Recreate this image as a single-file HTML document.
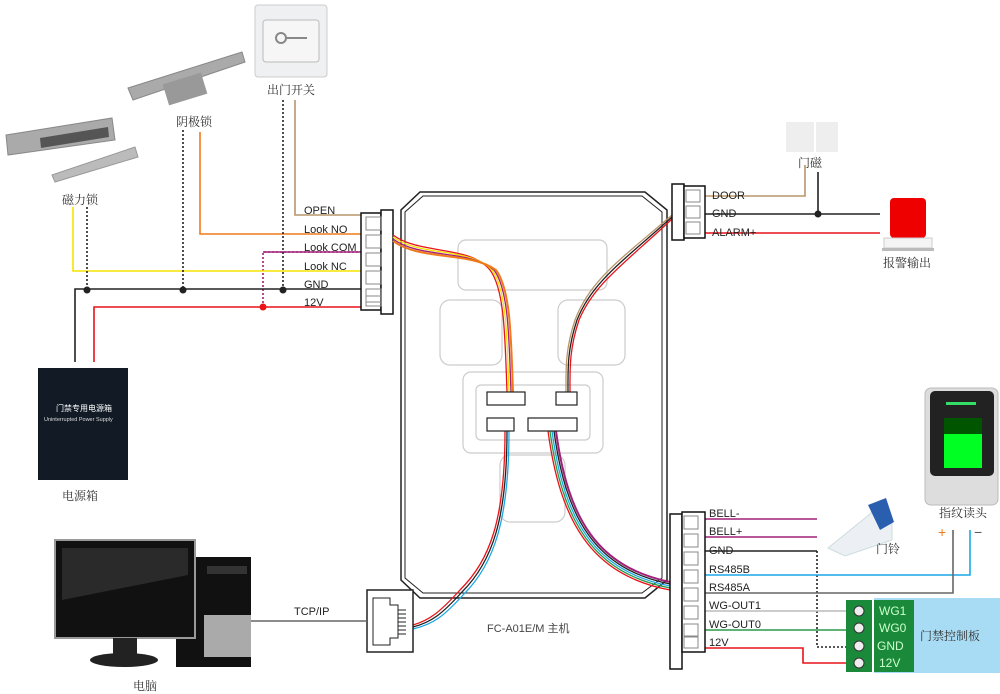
<!DOCTYPE html>
<html><head><meta charset="utf-8"><style>
html,body{margin:0;padding:0;background:#fff;}
svg{display:block;}
text{font-family:"Liberation Sans","Noto Sans CJK SC",sans-serif;}
.cn{font-family:"Noto Serif CJK SC","Noto Sans CJK SC",serif;fill:#333;font-size:12px;}
.lb{font-size:11px;fill:#222;}
</style></head><body>
<svg width="1000" height="694" viewBox="0 0 1000 694" xmlns="http://www.w3.org/2000/svg">
<g fill="none" stroke-width="1.6">
<path d="M295,100 V215 H361" stroke="#b8966a"/>
<path d="M200,132 V234 H361" stroke="#f07a1a"/>
<path d="M263,307 V252 H361" stroke="#a0207a" stroke-dasharray="2,2"/>
<path d="M263,252 H361" stroke="#a0207a"/>
<path d="M73,207 V271 H361" stroke="#f5e400"/>
<path d="M75,362 V289 H361" stroke="#222"/>
<path d="M94,362 V307 H361" stroke="#e8141a"/>
<path d="M87,207 V289 M183,130 V289 M283,100 V289" stroke="#222" stroke-dasharray="2,2"/>
</g>
<circle cx="87" cy="290" r="3.5" fill="#222"/><circle cx="183" cy="290" r="3.5" fill="#222"/><circle cx="283" cy="290" r="3.5" fill="#222"/><circle cx="263" cy="307" r="3.5" fill="#e8141a"/>
<g class="lb"><text x="304" y="214">OPEN</text><text x="304" y="233">Look NO</text><text x="304" y="251">Look COM</text><text x="304" y="270">Look NC</text><text x="304" y="288">GND</text><text x="304" y="306">12V</text></g>
<rect x="361" y="213" width="20" height="97" fill="#fff" stroke="#111" stroke-width="1.5"/>
<rect x="381" y="210" width="12" height="104" fill="#fff" stroke="#111" stroke-width="1.5"/>
<g fill="none" stroke="#888"><rect x="366" y="217" width="15" height="13"/><rect x="366" y="235" width="15" height="13"/><rect x="366" y="253" width="15" height="13"/><rect x="366" y="271" width="15" height="13"/><rect x="366" y="289" width="15" height="13"/><rect x="366" y="296" width="15" height="10"/></g>
<path d="M420,192 L645,192 L667,210 L667,580 L645,598 L420,598 L401,580 L401,210 Z" fill="#fff" stroke="#222" stroke-width="1.5"/>
<path d="M423,196 L642,196 L662,212 L662,578 L642,593 L423,593 L405,578 L405,212 Z" fill="none" stroke="#222" stroke-width="1"/>
<g fill="none" stroke="#ccc" stroke-width="1.2">
<rect x="458" y="240" width="149" height="50" rx="8"/><rect x="440" y="300" width="62" height="65" rx="10"/><rect x="558" y="300" width="67" height="65" rx="10"/>
<rect x="463" y="372" width="140" height="81" rx="8"/><rect x="476" y="385" width="114" height="55" rx="5"/><rect x="500" y="455" width="65" height="67" rx="10"/>
</g>
<g fill="none" stroke-width="1.3">
<path d="M393,235 C420,255 470,245 490,270 C505,290 505,340 507,392" stroke="#e8141a"/>
<path d="M393,237 C420,257 470,247 492,270 C507,290 507,340 509,392" stroke="#f5e400"/>
<path d="M393,239 C420,259 470,249 494,270 C509,290 509,340 511,392" stroke="#a0207a"/>
<path d="M393,241 C420,261 470,251 496,270 C511,290 511,340 513,392" stroke="#f07a1a" stroke-width="2"/>
<path d="M672,215 C620,260 590,280 575,320 C565,350 566,370 566,392" stroke="#b8966a"/>
<path d="M672,217 C622,262 592,282 577,320 C567,350 568,370 568,392" stroke="#222"/>
<path d="M672,219 C624,264 594,284 579,320 C569,350 570,370 570,392" stroke="#e8141a"/>
<path d="M505,431 C505,520 490,560 460,590 C440,612 430,620 413,625" stroke="#e8141a"/>
<path d="M507,431 C507,520 492,562 462,592 C442,614 432,622 413,627" stroke="#222"/>
<path d="M509,431 C509,520 494,564 464,594 C444,616 434,624 413,629" stroke="#1aa8e8"/>
<path d="M548,431 C560,520 590,575 670,590" stroke="#e8141a"/>
<path d="M550,431 C562,520 592,573 670,588" stroke="#2a9a4a"/>
<path d="M552,431 C564,520 594,571 670,586" stroke="#1aa8e8"/>
<path d="M554,431 C566,520 596,569 670,584" stroke="#222"/>
<path d="M556,431 C568,520 598,567 670,582" stroke="#a0207a" stroke-width="2"/>
</g>
<g fill="#fff" stroke="#222" stroke-width="1.2">
<rect x="487" y="392" width="38" height="13"/><rect x="556" y="392" width="21" height="13"/><rect x="487" y="418" width="27" height="13"/><rect x="528" y="418" width="49" height="13"/>
</g>
<text x="487" y="632" font-size="11" fill="#444" font-family="Liberation Serif,Noto Serif CJK SC,serif">FC-A01E/M 主机</text>
<g fill="none" stroke-width="1.6">
<path d="M705,196 H805 V165" stroke="#b8966a"/>
<path d="M705,214 H880 M818,172 V214" stroke="#222"/>
<path d="M705,233 H880" stroke="#e8141a"/>
</g>
<circle cx="818" cy="214" r="3.5" fill="#222"/>
<g class="lb"><text x="712" y="199">DOOR</text><text x="712" y="217">GND</text><text x="712" y="236">ALARM+</text></g>
<rect x="672" y="184" width="12" height="56" fill="#fff" stroke="#111" stroke-width="1.5"/>
<rect x="684" y="186" width="21" height="52" fill="#fff" stroke="#111" stroke-width="1.5"/>
<g fill="none" stroke="#888"><rect x="686" y="190" width="14" height="12"/><rect x="686" y="206" width="14" height="12"/><rect x="686" y="222" width="14" height="12"/></g>
<rect x="786" y="122" width="28" height="30" fill="#eee"/><rect x="816" y="122" width="22" height="30" fill="#eee"/>
<text x="798" y="167" class="cn" font-size="11">门磁</text>
<rect x="890" y="198" width="36" height="40" rx="4" fill="#e00"/><rect x="884" y="238" width="48" height="10" fill="#f4f4f4" stroke="#ccc"/><rect x="882" y="248" width="52" height="3" fill="#bbb"/>
<text x="883" y="267" class="cn">报警输出</text>
<g fill="none" stroke-width="1.6">
<path d="M705,519 H817 M705,537 H817" stroke="#a0207a"/>
<path d="M705,551 H817" stroke="#222"/>
<path d="M817,551 V647 H846" stroke="#222" stroke-dasharray="2,2"/>
<path d="M705,575 H970 V530" stroke="#1aa8e8"/>
<path d="M705,593 H953 V530" stroke="#666"/>
<path d="M705,611 H846" stroke="#bbb"/>
<path d="M705,630 H846" stroke="#2a9a4a"/>
<path d="M705,648 H803 V663 H846" stroke="#e8141a"/>
</g>
<g class="lb"><text x="709" y="517">BELL-</text><text x="709" y="535">BELL+</text><text x="709" y="554">GND</text><text x="709" y="573">RS485B</text><text x="709" y="591">RS485A</text><text x="709" y="609">WG-OUT1</text><text x="709" y="628">WG-OUT0</text><text x="709" y="646">12V</text></g>
<rect x="670" y="514" width="12" height="155" fill="#fff" stroke="#111" stroke-width="1.5"/>
<rect x="682" y="512" width="23" height="140" fill="#fff" stroke="#111" stroke-width="1.5"/>
<g fill="none" stroke="#888"><rect x="684" y="516" width="14" height="13"/><rect x="684" y="534" width="14" height="13"/><rect x="684" y="552" width="14" height="13"/><rect x="684" y="570" width="14" height="13"/><rect x="684" y="588" width="14" height="13"/><rect x="684" y="606" width="14" height="13"/><rect x="684" y="624" width="14" height="13"/><rect x="684" y="636" width="14" height="12"/></g>
<path d="M828,548 L875,510 L892,518 L892,540 L845,556 Z" fill="#eceff4" stroke="#cdd"/>
<path d="M868,505 L886,498 L894,522 L880,530 Z" fill="#2a5fb0"/>
<text x="876" y="553" class="cn" font-size="11">门铃</text>
<rect x="925" y="388" width="73" height="117" rx="6" fill="#ddd" stroke="#bbb"/>
<rect x="930" y="391" width="64" height="85" rx="5" fill="#222"/>
<rect x="944" y="418" width="38" height="50" fill="#0f2"/><rect x="944" y="418" width="38" height="16" fill="#050"/>
<rect x="946" y="402" width="30" height="3" fill="#3d6"/>
<text x="939" y="517" class="cn">指纹读头</text>
<text x="938" y="537" fill="#f07a1a" font-size="14">+</text><text x="974" y="537" fill="#555" font-size="14">−</text>
<rect x="874" y="598" width="126" height="75" fill="#a8dcf5"/>
<rect x="846" y="600" width="26" height="72" fill="#1a8a3a"/>
<rect x="874" y="600" width="40" height="72" fill="#1a8a3a"/>
<g fill="#eee" stroke="#333"><circle cx="859" cy="611" r="5"/><circle cx="859" cy="628" r="5"/><circle cx="859" cy="646" r="5"/><circle cx="859" cy="663" r="5"/></g>
<g font-size="12" fill="#cfc"><text x="879" y="615">WG1</text><text x="879" y="632">WG0</text><text x="877" y="650">GND</text><text x="879" y="667">12V</text></g>
<text x="920" y="640" class="cn" font-size="12">门禁控制板</text>
<rect x="367" y="590" width="46" height="62" fill="#fff" stroke="#222" stroke-width="1.5"/>
<path d="M373,598 H390 V605 H398 V638 H390 V645 H373 Z" fill="none" stroke="#222"/>
<g stroke="#222"><line x1="398" y1="610" x2="406" y2="610"/><line x1="398" y1="614" x2="406" y2="614"/><line x1="398" y1="618" x2="406" y2="618"/><line x1="398" y1="622" x2="406" y2="622"/><line x1="398" y1="626" x2="406" y2="626"/><line x1="398" y1="630" x2="406" y2="630"/><line x1="398" y1="634" x2="406" y2="634"/></g>
<line x1="250" y1="621" x2="367" y2="621" stroke="#666" stroke-width="1.5"/>
<text x="294" y="615" font-size="11" fill="#222">TCP/IP</text>
<!-- computer: tower behind, monitor front -->
<rect x="176" y="557" width="75" height="110" fill="#111"/><rect x="204" y="615" width="47" height="42" fill="#aaa"/>
<rect x="207" y="566" width="40" height="8" fill="#333"/>
<rect x="55" y="540" width="140" height="98" fill="#111" stroke="#999" stroke-width="2"/>
<path d="M62,548 L188,548 L188,575 L62,600 Z" fill="#2a2a2a"/>
<rect x="113" y="638" width="24" height="18" fill="#222"/><ellipse cx="124" cy="660" rx="34" ry="7" fill="#222"/>
<text x="133" y="690" class="cn">电脑</text>
<rect x="38" y="368" width="90" height="112" fill="#111a25"/>
<text x="56" y="411" font-size="8" fill="#fff" font-family="Noto Sans CJK SC,sans-serif">门禁专用电源箱</text>
<text x="44" y="421" font-size="5.5" fill="#ddd">Uninterrupted Power Supply</text>
<text x="62" y="500" class="cn">电源箱</text>
<path d="M6,135 L112,118 L115,140 L8,155 Z" fill="#aaa" stroke="#888"/>
<path d="M40,138 L108,127 L109,137 L41,148 Z" fill="#555"/>
<path d="M52,175 L135,147 L138,157 L55,182 Z" fill="#bbb" stroke="#999"/>
<text x="62" y="204" class="cn">磁力锁</text>
<path d="M128,88 L242,52 L245,62 L133,100 Z" fill="#aaa" stroke="#888"/><rect x="165" y="78" width="40" height="22" fill="#999" transform="rotate(-17 185 89)"/>
<text x="176" y="126" class="cn">阴极锁</text>
<rect x="255" y="5" width="72" height="72" rx="3" fill="#eef0f2" stroke="#ccc"/><rect x="263" y="20" width="56" height="42" rx="3" fill="#f6f6f6" stroke="#bbb"/>
<circle cx="281" cy="38" r="5" fill="none" stroke="#888" stroke-width="2"/><line x1="286" y1="38" x2="307" y2="38" stroke="#888" stroke-width="2"/>
<text x="267" y="94" class="cn">出门开关</text>
</svg>
</body></html>
